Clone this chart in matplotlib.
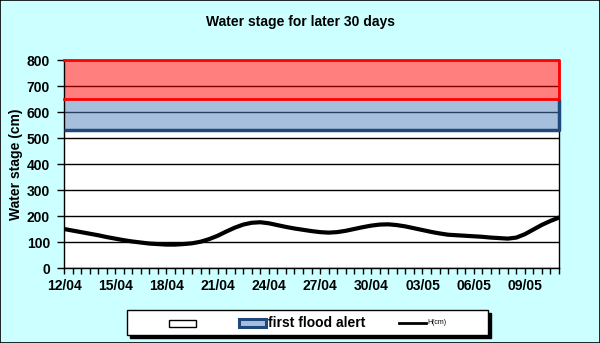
import matplotlib.pyplot as plt
import numpy as np
from matplotlib.lines import Line2D
from matplotlib.patches import Rectangle

# half-day readings since 12/04 00:00 (day 0) up to 11/05 (day 29)
days = [i * 0.5 for i in range(59)]
h_cm = [150, 144, 138, 132, 126, 119, 113, 107, 102, 98,
        94, 92, 90, 90, 92, 95, 101, 111, 124, 140,
        155, 167, 174, 176, 172, 165, 158, 152, 147, 142,
        138, 136, 138, 143, 150, 157, 163, 167, 168, 165,
        160, 153, 146, 139, 133, 128, 126, 124, 122, 120,
        117, 115, 113, 117, 130, 148, 166, 181, 194]
tick_days = [0, 3, 6, 9, 12, 15, 18, 21, 24, 27]
tick_labels = ["12/04", "15/04", "18/04", "21/04", "24/04",
               "27/04", "30/04", "03/05", "06/05", "09/05"]
alert1 = (530, 650)   # first flood alert band
alert2 = (650, 800)   # upper band

W, H = 600, 343
BG = "#CCFFFF"
plt.rcParams["font.family"] = ["Liberation Sans", "DejaVu Sans"]


def fx(px):
    return px / W


def fy(py):
    return 1 - py / H


fig = plt.figure(figsize=(W / 100, H / 100), dpi=100, facecolor=BG)
fig.patches.append(Rectangle((0, 0), 1, 1, transform=fig.transFigure, fill=False,
                             edgecolor="black", linewidth=1.2, zorder=10))

ax = fig.add_axes([fx(64), fy(268), fx(559) - fx(64), fy(60) - fy(268)])
ax.set_facecolor("white")
ax.set_xlim(days[0], days[-1])
ax.set_ylim(0, 800)

# grid below, bands semi-transparent over it (as in the original)
ax.set_yticks(np.arange(0, 801, 100))
ax.yaxis.grid(True, color="black", linewidth=1.0)
ax.set_axisbelow(True)

d0, d1 = days[0], days[-1]
ax.fill_between([d0, d1], alert1[0], alert1[1], facecolor="#4F81BD", alpha=0.5,
                linewidth=0, zorder=2)
ax.fill_between([d0, d1], alert2[0], alert2[1], facecolor="#FF0000", alpha=0.5,
                linewidth=0, zorder=2)
ax.plot([d0, d1, d1], [alert1[0], alert1[0], alert1[1]], color="#1F497D",
        linewidth=2.5, zorder=3, clip_on=False, solid_capstyle="butt")
ax.plot([d0, d1, d1, d0], [alert2[0], alert2[0], alert2[1], alert2[1]],
        color="#FF0000", linewidth=2.0, zorder=4, clip_on=False)

ax.plot(days, h_cm, color="black", linewidth=3.0, zorder=5,
        solid_capstyle="round", solid_joinstyle="round")

for s in ax.spines.values():
    s.set_color("black")
    s.set_linewidth(1.0)
ax.spines["top"].set_visible(False)

ax.set_xticks(tick_days)
ax.set_xticklabels(tick_labels)
ax.set_xticks(np.arange(0, 29.01, 0.5), minor=True)
ax.tick_params(axis="x", which="both", direction="out", length=4, width=1,
               color="black", pad=4, labelsize=10)
ax.tick_params(axis="y", direction="out", length=5, width=1, color="black",
               pad=5, labelsize=10)
for lab in ax.get_xticklabels() + ax.get_yticklabels():
    lab.set_fontweight("bold")

ax.set_ylabel("Water stage (cm)", fontsize=10, fontweight="bold", labelpad=3)

fig.text(0.5, fy(22), "Water stage for later 30 days", ha="center", va="center",
         fontsize=10, fontweight="bold")

# legend box with hard shadow
lx0, ly0, lx1, ly1 = 127, 310, 488, 335
fig.patches.append(Rectangle((fx(lx0 + 3), fy(ly1 + 3)), fx(lx1 - lx0), fy(ly0) - fy(ly1),
                             transform=fig.transFigure, facecolor="black",
                             edgecolor="black", zorder=1))
fig.patches.append(Rectangle((fx(lx0), fy(ly1)), fx(lx1 - lx0), fy(ly0) - fy(ly1),
                             transform=fig.transFigure, facecolor="white",
                             edgecolor="black", linewidth=1, zorder=2))
fig.patches.append(Rectangle((fx(169), fy(327)), fx(27), fy(320) - fy(327),
                             transform=fig.transFigure, facecolor="white",
                             edgecolor="black", linewidth=1, zorder=3))
fig.patches.append(Rectangle((fx(239), fy(327)), fx(27), fy(319) - fy(327),
                             transform=fig.transFigure, facecolor="#A7BFDE",
                             edgecolor="#1F497D", linewidth=2.2, zorder=3))
fig.text(fx(268), fy(323), "first flood alert", ha="left", va="center",
         fontsize=10, fontweight="bold", zorder=4)
fig.lines.append(Line2D([fx(399), fx(426)], [fy(323), fy(323)], color="black",
                        linewidth=2, transform=fig.transFigure, zorder=4))
fig.text(fx(427), fy(323), "H(cm)", ha="left", va="center", fontsize=5,
         zorder=4)

fig.savefig("out.png", dpi=100, facecolor=BG)
